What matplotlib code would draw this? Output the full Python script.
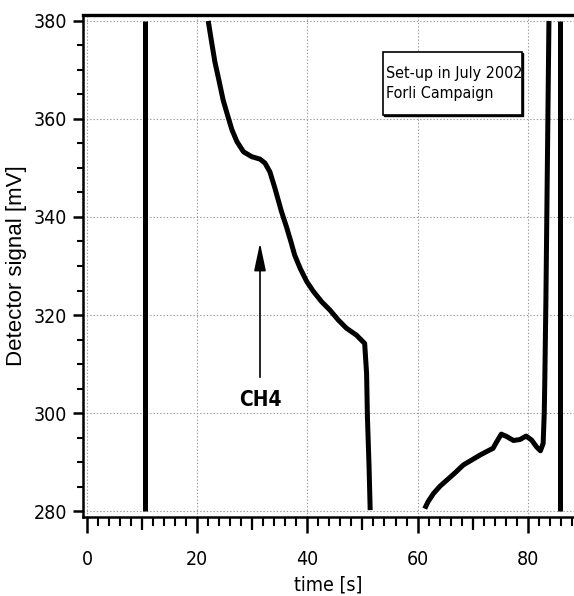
import matplotlib
matplotlib.use("Agg")
import matplotlib.pyplot as plt
from matplotlib.ticker import MultipleLocator
from matplotlib.patches import Rectangle

plt.rcParams['font.family'] = ['DejaVu Sans']
plt.rcParams['font.stretch'] = 'condensed'

# falling part of the signal
t1 = [22.0, 22.6, 23.2, 24.0, 24.7, 25.5, 26.3, 27.2, 28.4, 29.9, 31.4, 32.3,
      33.2, 34.1, 35.3, 36.2, 37.0, 37.7, 38.7, 39.9, 41.1, 42.6, 44.1, 45.6,
      47.1, 48.9, 50.4, 50.75, 50.9, 51.2, 51.4]
s1 = [380.0, 375.8, 371.7, 367.6, 363.9, 360.8, 357.8, 355.4, 353.3, 352.3,
      351.8, 351.0, 349.2, 345.9, 341.1, 338.0, 335.0, 332.2, 329.5, 326.8,
      324.8, 322.7, 321.0, 319.0, 317.3, 315.9, 314.2, 308.1, 299.2, 289.0, 280.2]

# rising part
t2 = [61.3, 61.9, 62.9, 64.1, 65.3, 66.8, 68.3, 69.8, 71.3, 72.8, 73.7, 74.4,
      75.2, 76.2, 77.4, 78.6, 79.7, 80.7, 81.6, 82.3, 82.8, 83.0, 83.1, 83.3, 83.85]
s2 = [280.5, 281.9, 283.6, 285.1, 286.3, 287.8, 289.4, 290.4, 291.4, 292.3,
      292.8, 294.2, 295.7, 295.2, 294.4, 294.6, 295.3, 294.5, 293.1, 292.3,
      293.8, 300.0, 306.7, 323.1, 380.0]

# vertical marker lines
vlines_t = [10.5, 85.8]

fig = plt.figure(figsize=(5.74, 5.96), dpi=100)
ax = fig.add_axes([0.1446, 0.1326, 0.8554, 0.8422])

ax.plot(t1, s1, color='black', lw=3.6, solid_joinstyle='round', solid_capstyle='butt')
ax.plot(t2, s2, color='black', lw=3.6, solid_joinstyle='round', solid_capstyle='butt')
for v in vlines_t:
    ax.plot([v, v], [280, 380], color='black', lw=3.6, solid_capstyle='butt')

ax.set_xlim(-0.73, 88.4)
ax.set_ylim(278.8, 381.2)

ax.xaxis.set_major_locator(MultipleLocator(20))
ax.xaxis.set_minor_locator(MultipleLocator(2))
ax.yaxis.set_major_locator(MultipleLocator(20))
ax.yaxis.set_minor_locator(MultipleLocator(5))
ax.grid(True, which='major', color='#999999', ls=(0, (1.2, 1.8)), lw=0.8)

ax.tick_params(axis='x', which='major', direction='out', length=11.5, width=1.8,
               pad=12, labelsize=14)
ax.tick_params(axis='x', which='minor', direction='out', length=6.5, width=1.5)
ax.tick_params(axis='y', which='major', direction='out', length=7.2, width=1.8,
               pad=4, labelsize=14)
ax.tick_params(axis='y', which='minor', direction='out', length=4.3, width=1.5)

# medium ticks at odd tens
sec = ax.secondary_xaxis('bottom')
sec.set_xticks([10, 30, 50, 70])
sec.tick_params(direction='out', length=9.4, width=1.6, labelbottom=False)
sec.spines['bottom'].set_visible(False)

ax.spines['right'].set_visible(False)
ax.spines['left'].set_linewidth(1.8)
ax.spines['bottom'].set_linewidth(1.8)
ax.spines['top'].set_linewidth(2.4)

ax.set_xlabel('time [s]', fontsize=14)
ax.xaxis.label.set_va('center')
ax.xaxis.set_label_coords(0.5, -0.1355)
ax.set_ylabel('Detector signal [mV]', fontsize=16,
              family=['Liberation Sans', 'DejaVu Sans'], stretch='normal')
ax.yaxis.set_label_coords(-0.115, 0.5)

# CH4 arrow
ax.annotate('', xy=(31.4, 334.7), xytext=(31.4, 307.3),
            arrowprops=dict(arrowstyle='-|>,head_length=0.85,head_width=0.18',
                            color='black', lw=1.2, mutation_scale=20,
                            shrinkA=0, shrinkB=0))
ax.text(31.4, 302.7, 'CH4', ha='center', va='center', fontsize=15,
        fontweight='bold')

# info box with shadow
ax.add_patch(Rectangle((54.0, 360.5), 25.2, 12.9, fc='black', ec='black',
                       lw=1.0, zorder=4))
ax.add_patch(Rectangle((53.7, 360.8), 25.2, 12.9, fc='white', ec='black',
                       lw=1.2, zorder=5))
ax.text(54.3, 367.2, 'Set-up in July 2002\nForli Campaign', ha='left',
        va='center', fontsize=11.5, linespacing=1.45, zorder=6)

fig.savefig('out.png', dpi=100)
